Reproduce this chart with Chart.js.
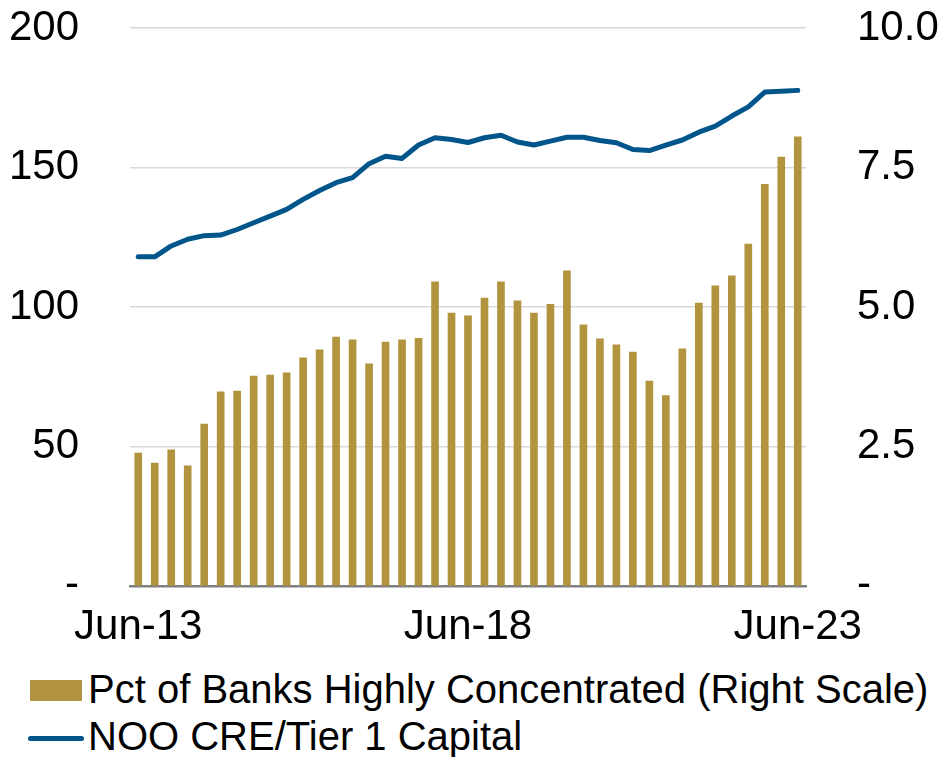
<!DOCTYPE html>
<html>
<head>
<meta charset="utf-8">
<script src="https://cdn.jsdelivr.net/npm/chart.js@4"></script>
<style>
  body { margin: 0; background: #fff; font-family: 'Liberation Sans', Arial, sans-serif; }
  #wrap { position: relative; width: 939px; height: 757px; overflow: hidden; }
  #chart { position: absolute; left: 0; top: -48px; }
  .item { position: absolute; left: 88px; font-size: 40px; line-height: 40px; color: #000; white-space: nowrap; }
  .box { position: absolute; left: 30px; top: 680px; width: 52px; height: 21px; background: #b3943e; }
  .ln { position: absolute; left: 28px; top: 736px; width: 56px; height: 5px; border-radius: 3px; background: #00558a; }
</style>
</head>
<body>
<div id="wrap">
  <canvas id="chart" width="939" height="710"></canvas>
  <div class="box"></div>
  <div class="item" style="top:669px">Pct of Banks Highly Concentrated (Right Scale)</div>
  <div class="ln"></div>
  <div class="item" style="top:716px">NOO CRE/Tier 1 Capital</div>
</div>
<script>
// quarterly, Jun-13 .. Jun-23
quarters = ['Jun-13','Sep-13','Dec-13','Mar-14','Jun-14','Sep-14','Dec-14','Mar-15','Jun-15','Sep-15',
            'Dec-15','Mar-16','Jun-16','Sep-16','Dec-16','Mar-17','Jun-17','Sep-17','Dec-17','Mar-18',
            'Jun-18','Sep-18','Dec-18','Mar-19','Jun-19','Sep-19','Dec-19','Mar-20','Jun-20','Sep-20',
            'Dec-20','Mar-21','Jun-21','Sep-21','Dec-21','Mar-22','Jun-22','Sep-22','Dec-22','Mar-23','Jun-23']

// pct of banks highly concentrated (right scale)
pctBanks = [2.38,2.20,2.44,2.15,2.90,3.48,3.49,3.76,3.78,3.82,
            4.09,4.23,4.46,4.41,3.98,4.37,4.41,4.44,5.45,4.89,
            4.84,5.16,5.45,5.11,4.89,5.05,5.65,4.68,4.43,4.32,
            4.19,3.67,3.41,4.25,5.07,5.38,5.56,6.13,7.20,7.69,8.05]

// NOO CRE / tier 1 capital (left scale)
nooCre = [118.0,118.0,121.9,124.3,125.6,125.8,127.8,130.2,132.6,135.0,
          138.6,141.8,144.6,146.4,151.4,154.1,153.3,158.1,160.7,160.1,
          159.0,160.7,161.6,159.2,158.1,159.5,160.9,160.9,159.7,158.9,
          156.5,156.1,158.1,159.9,162.7,164.9,168.5,171.8,177.1,177.4,177.7]

shownTicks = ['Jun-13','Jun-18','Jun-23']
leftTicks = {0: '-', 50: '50', 100: '100', 150: '150', 200: '200'}
rightTicks = {0: '-', 2.5: '2.5', 5: '5.0', 7.5: '7.5', 10: '10.0'}

font = { family: "'Liberation Sans', Arial, sans-serif", size: 42 }

new Chart(document.querySelector('#chart'), {
  data: {
    labels: quarters,
    datasets: [
      {
        type: 'line',
        label: 'NOO CRE/Tier 1 Capital',
        data: nooCre,
        yAxisID: 'yL',
        borderColor: '#00558a',
        borderWidth: 5,
        borderCapStyle: 'round',
        borderJoinStyle: 'round',
        pointRadius: 0,
        tension: 0,
        order: 0
      },
      {
        type: 'bar',
        label: 'Pct of Banks Highly Concentrated (Right Scale)',
        data: pctBanks,
        yAxisID: 'yR',
        backgroundColor: '#b3943e',
        barThickness: 7,
        order: 1
      }
    ]
  },
  options: {
    responsive: false,
    animation: false,
    layout: { padding: 0 },
    plugins: { legend: { display: false }, tooltip: { enabled: false } },
    scales: {
      x: {
        offset: true,
        grid: { display: false, drawTicks: false },
        border: { color: '#808080', width: 2.5 },
        ticks: {
          autoSkip: false, maxRotation: 0, padding: 16, color: '#000', font: font,
          callback: function(v, i) { return shownTicks.includes(quarters[i]) ? quarters[i] : '' }
        },
        afterFit: function(s) { s.height = 65 }
      },
      yL: {
        position: 'left',
        min: 0, max: 200,
        grid: { color: '#d9d9d9', lineWidth: 1.5, drawTicks: false },
        border: { display: false },
        ticks: { stepSize: 50, padding: 51, color: '#000', font: font,
                 callback: function(v) { return leftTicks[v] } },
        afterFit: function(s) { s.width = 130 }
      },
      yR: {
        position: 'right',
        min: 0, max: 10,
        grid: { drawOnChartArea: false, drawTicks: false },
        border: { display: false },
        ticks: { stepSize: 2.5, padding: 51, color: '#000', font: font,
                 callback: function(v) { return rightTicks[v] } },
        afterFit: function(s) { s.width = 133 }
      }
    }
  }
});
</script>
</body>
</html>
